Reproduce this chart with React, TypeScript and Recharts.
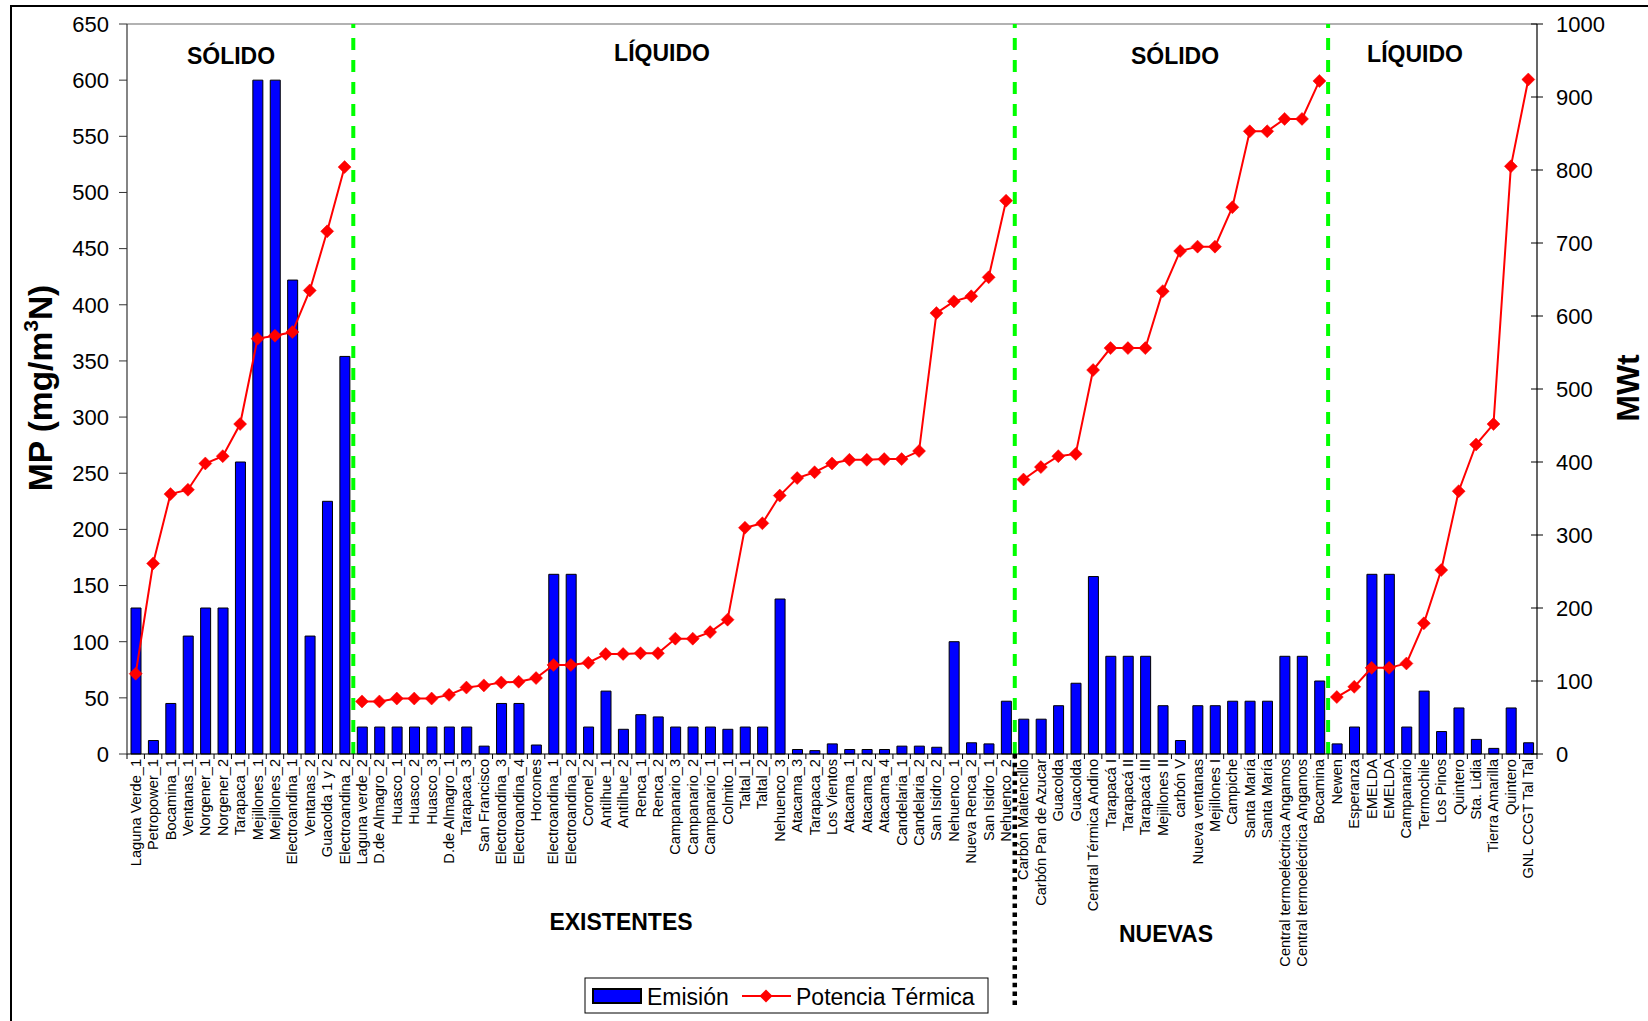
import React from 'react';
import { ComposedChart, Bar, Line, XAxis, YAxis, ReferenceLine } from 'recharts';

const FONT = "'Liberation Sans', Arial, sans-serif";

const categories = [
  'Laguna Verde_1', 'Petropower_1', 'Bocamina_1', 'Ventanas_1', 'Norgener_1', 'Norgener_2', 'Tarapaca_1',
  'Mejillones_1', 'Mejillones_2', 'Electroandina_1', 'Ventanas_2', 'Guacolda 1 y 2', 'Electroandina_2',
  'Laguna verde_2', 'D.de Almagro_2', 'Huasco_1', 'Huasco_2', 'Huasco_3', 'D.de Almagro_1', 'Tarapaca_3',
  'San Francisco', 'Electroandina_3', 'Electroandina_4', 'Horcones', 'Electroandina_1', 'Electroandina_2',
  'Coronel_2', 'Antilhue_1', 'Antilhue_2', 'Renca_1', 'Renca_2', 'Campanario_3', 'Campanario_2',
  'Campanario_1', 'Colmito_1', 'Taltal_1', 'Taltal_2', 'Nehuenco_3', 'Atacama_3', 'Tarapaca_2',
  'Los Vientos', 'Atacama_1', 'Atacama_2', 'Atacama_4', 'Candelaria_1', 'Candelaria_2', 'San Isidro_2',
  'Nehuenco_1', 'Nueva Renca_2', 'San Isidro_1', 'Nehuenco_2',
  'Carbón Maitencillo', 'Carbón Pan de Azucar', 'Guacolda', 'Guacolda', 'Central Térmica Andino',
  'Tarapacá I', 'Tarapacá II', 'Tarapacá III', 'Mejillones II', 'carbón V', 'Nueva ventanas',
  'Mejillones I', 'Campiche', 'Santa María', 'Santa María', 'Central termoeléctrica Angamos',
  'Central termoeléctrica Angamos', 'Bocamina',
  'Newen', 'Esperanza', 'EMELDA', 'EMELDA', 'Campanario', 'Termochile', 'Los Pinos', 'Quintero',
  'Sta. Lidia', 'Tierra Amarilla', 'Quintero', 'GNL CCGT Tal Tal',
];

const emision = [
  130, 12, 45, 105, 130, 130, 260, 600, 600, 422, 105, 225, 354,
  24, 24, 24, 24, 24, 24, 24, 7, 45, 45, 8, 160, 160, 24, 56, 22, 35, 33, 24, 24, 24, 22, 24, 24, 138,
  4, 3, 9, 4, 4, 4, 7, 7, 6, 100, 10, 9, 47,
  31, 31, 43, 63, 158, 87, 87, 87, 43, 12, 43, 43, 47, 47, 47, 87, 87, 65,
  9, 24, 160, 160, 24, 56, 20, 41, 13, 5, 41, 10,
];

const potencia = [
  110, 261, 356, 362, 398, 408, 452, 569, 573, 578, 635, 716, 804,
  72, 72, 76, 76, 76, 81, 91, 94, 98, 99, 104, 122, 122, 125, 137, 137, 138, 138, 158, 158, 167, 184,
  310, 316, 354, 378, 386, 398, 403, 403, 404, 404, 415, 604, 620, 627, 653, 758,
  376, 393, 408, 411, 526, 556, 556, 556, 634, 689, 695, 695, 749, 853, 853, 870, 870, 922,
  78, 92, 118, 118, 124, 179, 252, 360, 424, 452, 805, 924,
];

const groupSizes = [13, 38, 18, 12];
const groupTitles = ['SÓLIDO', 'LÍQUIDO', 'SÓLIDO', 'LÍQUIDO'];
const eraTitles = ['EXISTENTES', 'NUEVAS'];
const leftTicks = [0, 50, 100, 150, 200, 250, 300, 350, 400, 450, 500, 550, 600, 650];
const rightTicks = [0, 100, 200, 300, 400, 500, 600, 700, 800, 900, 1000];
const seriesNames = ['Emisión', 'Potencia Térmica'];

const groupStarts: number[] = [];
groupSizes.reduce((acc, s) => { groupStarts.push(acc); return acc + s; }, 0);

const data = categories.map((name, i) => {
  const row: any = { idx: i, name, emision: emision[i] };
  groupSizes.forEach((s, g) => {
    row['p' + g] = i >= groupStarts[g] && i < groupStarts[g] + s ? potencia[i] : null;
  });
  return row;
});

const W = 1648;
const H = 1021;
const MARGIN = { top: 24, right: 51, left: 57, bottom: 0 };
const LEFT_W = 70;
const RIGHT_W = 60;
const XAXIS_H = 267;
const PLOT_W = W - MARGIN.left - MARGIN.right - LEFT_W - RIGHT_W;
const N = categories.length;

function CatTick(props: any) {
  const { x, y, payload } = props;
  const index = props.index ?? payload.index ?? payload.value;
  const half = payload.offset || PLOT_W / N / 2;
  return (
    <g>
      <line x1={x - half} x2={x - half} y1={y} y2={y + 5} stroke="#000" strokeWidth={1} />
      {index === N - 1 && <line x1={x + half} x2={x + half} y1={y} y2={y + 5} stroke="#000" strokeWidth={1} />}
      <text
        transform={`translate(${x + 5},${y + 5}) rotate(-90)`}
        textAnchor="end"
        fontSize={14.6}
        fontFamily={FONT}
        fill="#000"
      >
        {categories[payload.value]}
      </text>
    </g>
  );
}

function RightTick(props: any) {
  const { x, y, payload } = props;
  return (
    <g>
      <line x1={x - 6} x2={x + 6} y1={y} y2={y} stroke="#000" strokeWidth={1} />
      <text x={x + 19} y={y} dy="0.355em" textAnchor="start" fontSize={22} fontFamily={FONT} fill="#000">
        {payload.value}
      </text>
    </g>
  );
}

function Diamond(props: any) {
  const { cx, cy, index, value } = props;
  if (cx == null || cy == null || value == null || Number.isNaN(cy)) return <g key={`d-${index}`} />;
  const r = 6.5;
  return (
    <path
      key={`d-${index}`}
      d={`M${cx},${cy - r}L${cx + r},${cy}L${cx},${cy + r}L${cx - r},${cy}Z`}
      fill="#FF0000"
      stroke="#FF0000"
      strokeWidth={0.5}
    />
  );
}

export default function App() {
  return (
    <div style={{ position: 'absolute', left: 0, top: 0, width: W, height: H, overflow: 'hidden', background: '#fff' }}>
      <div
        style={{
          position: 'absolute', left: 10, top: 5, width: 1700, height: 1100,
          borderTop: '2px solid #000', borderLeft: '2px solid #000',
        }}
      />
      <div style={{ position: 'absolute', left: 0, top: 0 }}>
        <ComposedChart width={W} height={H} data={data} margin={MARGIN}>
          <XAxis
            dataKey="idx"
            type="category"
            xAxisId="x"
            height={XAXIS_H}
            interval={0}
            tickSize={0}
            tickMargin={0}
            tickLine={false}
            axisLine={{ stroke: '#000', strokeWidth: 1.2 }}
            tick={(p: any) => <CatTick {...p} />}
          />
          <YAxis
            yAxisId="left"
            type="number"
            domain={[0, 650]}
            ticks={leftTicks}
            interval={0}
            width={LEFT_W}
            tickSize={8}
            tickMargin={10}
            axisLine={{ stroke: '#333', strokeWidth: 1.2 }}
            tickLine={{ stroke: '#333' }}
            tick={{ fontSize: 22, fill: '#000', fontFamily: FONT }}
          />
          <YAxis
            yAxisId="right"
            orientation="right"
            type="number"
            domain={[0, 1000]}
            ticks={rightTicks}
            interval={0}
            width={RIGHT_W}
            tickSize={0}
            tickMargin={0}
            tickLine={false}
            axisLine={{ stroke: '#000', strokeWidth: 1.2 }}
            tick={(p: any) => <RightTick {...p} />}
          />
          <ReferenceLine yAxisId="left" xAxisId="x" y={650} stroke="#999" strokeWidth={1.5} />
          <Bar
            dataKey="emision"
            name={seriesNames[0]}
            xAxisId="x"
            yAxisId="left"
            fill="#0000FF"
            stroke="#000"
            strokeWidth={1}
            barSize={10}
            isAnimationActive={false}
          />
          {groupStarts.slice(1).map((s) => (
            <ReferenceLine
              key={`g-${s}`}
              xAxisId="x"
              yAxisId="left"
              x={s}
              position="start"
              stroke="#00FF00"
              strokeWidth={4}
              strokeDasharray="12 10"
            />
          ))}
          <ReferenceLine
            xAxisId="x"
            yAxisId="left"
            segment={[{ x: groupStarts[2], y: 0 }, { x: groupStarts[2], y: -226 }]}
            position="start"
            ifOverflow="visible"
            stroke="#000"
            strokeWidth={4.5}
            strokeDasharray="4.5 4.3"
          />
          {groupSizes.map((_, g) => (
            <Line
              key={`p${g}`}
              dataKey={`p${g}`}
              name={seriesNames[1]}
              xAxisId="x"
              yAxisId="right"
              type="linear"
              stroke="#FF0000"
              strokeWidth={2}
              dot={Diamond}
              activeDot={false}
              connectNulls={false}
              legendType="none"
              isAnimationActive={false}
            />
          ))}
        </ComposedChart>
      </div>
      <svg width={W} height={H} style={{ position: 'absolute', left: 0, top: 0, pointerEvents: 'none' }}>
        <g fontFamily={FONT} fontWeight="bold" fontSize={23} fill="#000" textAnchor="middle">
          <text x={231} y={64}>{groupTitles[0]}</text>
          <text x={662} y={61}>{groupTitles[1]}</text>
          <text x={1175} y={64}>{groupTitles[2]}</text>
          <text x={1415} y={62}>{groupTitles[3]}</text>
          <text x={621} y={930}>{eraTitles[0]}</text>
          <text x={1166} y={942}>{eraTitles[1]}</text>
        </g>
        <text
          transform="translate(52,388) rotate(-90)"
          textAnchor="middle"
          fontFamily={FONT}
          fontWeight="bold"
          fontSize={33.5}
          fill="#000"
        >
          MP (mg/m<tspan fontSize={21} dy={-14}>3</tspan><tspan dy={14}>N)</tspan>
        </text>
        <text
          transform="translate(1639,388) rotate(-90)"
          textAnchor="middle"
          fontFamily={FONT}
          fontWeight="bold"
          fontSize={32}
          fill="#000"
        >
          MWt
        </text>
        <g fontFamily={FONT} fontSize={23} fill="#000">
          <rect x={585} y={978} width={403} height={35} fill="#fff" stroke="#000" strokeWidth={1} />
          <rect x={593} y={989} width={48} height={14} fill="#0000FF" stroke="#000" strokeWidth={2} />
          <text x={647} y={1005}>{seriesNames[0]}</text>
          <line x1={742} x2={791} y1={996} y2={996} stroke="#FF0000" strokeWidth={2} />
          <path d="M766,989.5L772.5,996L766,1002.5L759.5,996Z" fill="#FF0000" />
          <text x={796} y={1005}>{seriesNames[1]}</text>
        </g>
      </svg>
    </div>
  );
}
